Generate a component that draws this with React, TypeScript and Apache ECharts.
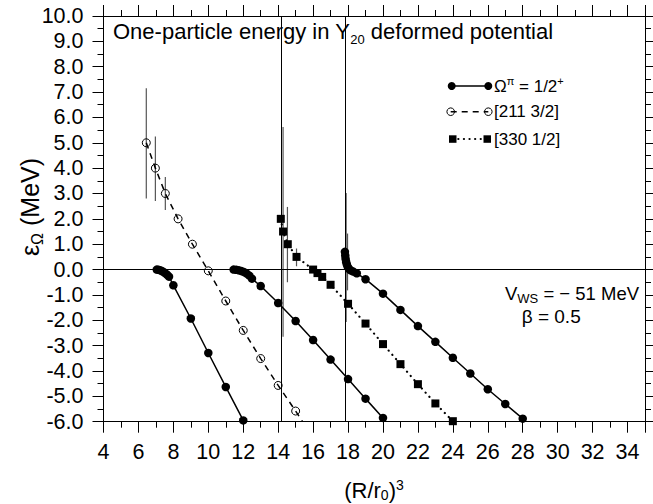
import React, { useEffect, useRef } from "react";
import * as echarts from "echarts";

const FONT = '"Liberation Sans", Arial, Helvetica, sans-serif';

// Ω^π = 1/2+ (filled circles), three branches
const branchAX = [7.05, 7.15, 7.25, 7.35, 7.45, 7.55, 7.65, 7.75, 8, 9, 10, 11, 12];
const branchAY = [0.0, -0.01, -0.03, -0.06, -0.1, -0.15, -0.21, -0.28, -0.62, -1.93, -3.29, -4.63, -5.95];
const branchBX = [11.45, 11.6, 11.75, 11.9, 12.05, 12.2, 12.35, 12.5, 13, 14, 15, 16, 17, 18, 19, 20];
const branchBY = [0.0, -0.01, -0.03, -0.06, -0.1, -0.16, -0.24, -0.36, -0.65, -1.32, -2.03, -2.78, -3.55, -4.32, -5.09, -5.85];
const branchCX = [17.82, 17.84, 17.86, 17.89, 17.93, 17.98, 18.05, 18.15, 18.3, 18.5, 19, 20, 21, 22, 23, 24, 25, 26, 27, 28];
const branchCY = [0.7, 0.55, 0.42, 0.3, 0.2, 0.11, 0.03, -0.03, -0.08, -0.15, -0.38, -0.95, -1.59, -2.23, -2.85, -3.48, -4.1, -4.72, -5.3, -5.88];

// [211 3/2] open circles
const openX = [6.45, 6.97, 7.54, 8.27, 9.09, 10.0, 11.0, 12.0, 13.0, 14.0, 15.0];
const openY = [5.0, 4.0, 3.0, 2.0, 1.0, -0.05, -1.24, -2.4, -3.51, -4.57, -5.58];
const openTail = [15.4, -6.0];

// [330 1/2] squares
const sqX = [14.15, 14.28, 14.55, 15.05, 16.0, 16.25, 16.52, 17.0, 18, 19, 20, 21, 22, 23, 24];
const sqY = [2.0, 1.5, 1.0, 0.5, 0.0, -0.14, -0.29, -0.6, -1.35, -2.13, -2.94, -3.73, -4.52, -5.28, -5.98];

// error bars
const errX = [6.45, 6.97, 7.54, 14.28, 14.53, 15.05, 17.89, 17.97];
const errLo = [2.8, 2.7, 2.35, -2.65, -0.5, 0.13, -2.07, -0.82];
const errHi = [7.15, 5.25, 3.65, 5.62, 2.47, 0.83, 3.02, 1.42];

// reference lines
const vLines = [14.18, 17.85];

const xMin = 4, xMax = 35, xStep = 2;
const yMin = -6, yMax = 10, yStep = 1;

function pairs(xs: number[], ys: number[]) {
  return xs.map((x, i) => [x, ys[i]]);
}

export default function App() {
  const ref = useRef<HTMLDivElement>(null);
  useEffect(() => {
    const chart = echarts.init(ref.current!, null, { renderer: "svg" });
    const axisCommon = {
      type: "value",
      axisLine: { show: true, onZero: false, lineStyle: { color: "#000", width: 1 } },
      axisTick: { show: true, inside: false, length: 11, lineStyle: { color: "#000", width: 1 } },
      minorTick: { show: true, splitNumber: 2, length: 6, lineStyle: { color: "#000", width: 1 } },
      splitLine: { show: false },
      minorSplitLine: { show: false },
    };
    const xBase = { ...axisCommon, min: xMin, max: xMax, interval: xStep };
    const yBase = { ...axisCommon, min: yMin, max: yMax, interval: yStep };
    const filledStyle = {
      type: "line",
      symbol: "circle",
      symbolSize: 8.5,
      showAllSymbol: true,
      itemStyle: { color: "#000" },
      lineStyle: { color: "#000", width: 1.5 },
      z: 3,
    };
    const option: any = {
      animation: false,
      grid: { left: 103.5, right: 8, top: 16, bottom: 82.3, containLabel: false },
      xAxis: [
        {
          ...xBase,
          position: "bottom",
          axisLabel: { color: "#000", fontSize: 21.5, fontFamily: FONT, margin: 19 },
        },
        { ...xBase, position: "top", axisLabel: { show: false } },
      ],
      yAxis: [
        {
          ...yBase,
          position: "left",
          axisLabel: {
            color: "#000",
            fontSize: 21.5,
            fontFamily: FONT,
            margin: 20,
            formatter: (v: number) => v.toFixed(1),
          },
        },
        { ...yBase, position: "right", axisLabel: { show: false } },
      ],
      series: [
        {
          type: "custom",
          silent: true,
          z: 1,
          data: errX.map((x, i) => [x, errLo[i], errHi[i]]),
          encode: { x: 0, y: [1, 2] },
          renderItem: (params: any, api: any) => {
            const p1 = api.coord([api.value(0), api.value(1)]);
            const p2 = api.coord([api.value(0), api.value(2)]);
            return {
              type: "line",
              shape: { x1: p1[0], y1: p1[1], x2: p2[0], y2: p2[1] },
              style: { stroke: "#555", lineWidth: 1.2 },
            };
          },
        },
        {
          ...filledStyle,
          name: "A",
          data: pairs(branchAX, branchAY),
          markLine: {
            silent: true,
            symbol: ["none", "none"],
            label: { show: false },
            lineStyle: { color: "#000", width: 1, type: "solid" },
            data: [...vLines.map((v) => ({ xAxis: v })), { yAxis: 0 }],
          },
        },
        { ...filledStyle, name: "B", data: pairs(branchBX, branchBY) },
        { ...filledStyle, name: "C", data: pairs(branchCX, branchCY) },
        {
          type: "line",
          name: "open",
          symbol: "circle",
          symbolSize: 8,
          showAllSymbol: true,
          itemStyle: { color: "rgba(0,0,0,0)", borderColor: "#000", borderWidth: 1 },
          lineStyle: { color: "#000", width: 1.5, type: [6, 5] },
          z: 3,
          data: [...pairs(openX, openY), { value: openTail, symbol: "none" }],
        },
        {
          type: "line",
          name: "sq",
          symbol: "rect",
          symbolSize: 8,
          showAllSymbol: true,
          itemStyle: { color: "#000" },
          lineStyle: { color: "#000", width: 2.2, type: [0.1, 5.5], cap: "round" },
          z: 3,
          data: pairs(sqX, sqY),
        },
      ],
      graphic: [
        {
          type: "text",
          x: 113,
          y: 31.5,
          style: {
            text: "{m|One-particle energy in Y}{s|20}{m| deformed potential}",
            align: "left",
            verticalAlign: "middle",
            rich: {
              m: { fontSize: 22, fontFamily: FONT, fill: "#000", lineHeight: 28 },
              s: { fontSize: 13, fontFamily: FONT, fill: "#000", lineHeight: 14, verticalAlign: "bottom" },
            },
          },
        },
        {
          type: "text",
          x: 30,
          y: 207,
          rotation: Math.PI / 2,
          style: {
            text: "{m|ε}{s|Ω}{m| (MeV)}",
            align: "center",
            verticalAlign: "middle",
            rich: {
              m: { fontSize: 25, fontFamily: FONT, fill: "#000", lineHeight: 30 },
              s: { fontSize: 16, fontFamily: FONT, fill: "#000", lineHeight: 16, verticalAlign: "bottom" },
            },
          },
        },
        {
          type: "text",
          x: 374,
          y: 490,
          style: {
            text: "{m|(R/r}{s|0}{m|)}{p|3}",
            align: "center",
            verticalAlign: "middle",
            rich: {
              m: { fontSize: 22, fontFamily: FONT, fill: "#000", lineHeight: 24 },
              s: { fontSize: 14, fontFamily: FONT, fill: "#000", lineHeight: 13, verticalAlign: "bottom" },
              p: { fontSize: 14, fontFamily: FONT, fill: "#000", lineHeight: 12, verticalAlign: "top" },
            },
          },
        },
        // legend row 1
        { type: "line", shape: { x1: 451.7, y1: 86, x2: 488.3, y2: 86 }, style: { stroke: "#000", lineWidth: 1.5 } },
        { type: "circle", shape: { cx: 451.7, cy: 86, r: 4 }, style: { fill: "#000" } },
        { type: "circle", shape: { cx: 488.3, cy: 86, r: 4 }, style: { fill: "#000" } },
        {
          type: "text",
          x: 494,
          y: 86,
          style: {
            text: "{m|Ω}{p|π}{m| = 1/2}{p|+}",
            align: "left",
            verticalAlign: "middle",
            rich: {
              m: { fontSize: 17, fontFamily: FONT, fill: "#000", lineHeight: 22 },
              p: { fontSize: 11, fontFamily: FONT, fill: "#000", lineHeight: 12, verticalAlign: "top" },
            },
          },
        },
        // legend row 2
        { type: "line", shape: { x1: 450.7, y1: 111.7, x2: 488.3, y2: 111.7 }, style: { stroke: "#000", lineWidth: 1.5, lineDash: [6, 5] } },
        { type: "circle", shape: { cx: 450.7, cy: 111.7, r: 3.8 }, style: { fill: "rgba(0,0,0,0)", stroke: "#000", lineWidth: 1 } },
        { type: "circle", shape: { cx: 488.3, cy: 111.7, r: 3.8 }, style: { fill: "rgba(0,0,0,0)", stroke: "#000", lineWidth: 1 } },
        {
          type: "text",
          x: 494,
          y: 111.7,
          style: { text: "[211 3/2]", fontSize: 17, fontFamily: FONT, fill: "#000", align: "left", verticalAlign: "middle" },
        },
        // legend row 3
        { type: "line", shape: { x1: 452.7, y1: 139, x2: 487.3, y2: 139 }, style: { stroke: "#000", lineWidth: 2.2, lineDash: [0.1, 5.5], lineCap: "round" } },
        { type: "rect", shape: { x: 449, y: 135.3, width: 7.5, height: 7.5 }, style: { fill: "#000" } },
        { type: "rect", shape: { x: 483.5, y: 135.3, width: 7.5, height: 7.5 }, style: { fill: "#000" } },
        {
          type: "text",
          x: 494,
          y: 139,
          style: { text: "[330 1/2]", fontSize: 17, fontFamily: FONT, fill: "#000", align: "left", verticalAlign: "middle" },
        },
        // annotations
        {
          type: "text",
          x: 505,
          y: 293,
          style: {
            text: "{m|V}{s|WS}{m| = − 51 MeV}",
            align: "left",
            verticalAlign: "middle",
            rich: {
              m: { fontSize: 18.5, fontFamily: FONT, fill: "#000", lineHeight: 24 },
              s: { fontSize: 13, fontFamily: FONT, fill: "#000", lineHeight: 14, verticalAlign: "bottom" },
            },
          },
        },
        {
          type: "text",
          x: 521.7,
          y: 316,
          style: { text: "β = 0.5", fontSize: 19, fontFamily: FONT, fill: "#000", align: "left", verticalAlign: "middle" },
        },
      ],
    };
    chart.setOption(option);
    return () => chart.dispose();
  }, []);
  return (
    <div
      ref={ref}
      style={{ position: "absolute", left: 0, top: 0, width: 653, height: 504, background: "#fff" }}
    />
  );
}
